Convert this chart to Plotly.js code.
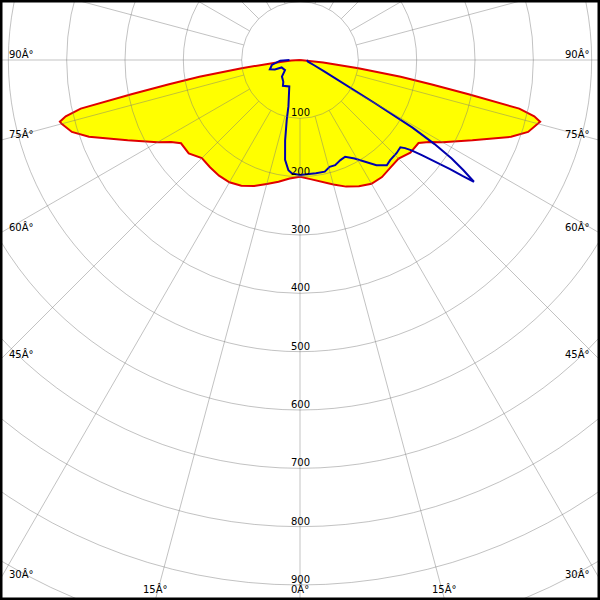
<!DOCTYPE html>
<html><head><meta charset="utf-8">
<script src="https://cdn.plot.ly/plotly-3.0.1.min.js"></script>
<style>html,body{margin:0;padding:0;background:#fff}#chart{width:600px;height:600px}</style>
</head><body><div id="chart"></div>
<script>
// C0 / C180 plane (red outline, yellow fill) - gamma in degrees from nadir, intensity
const gammaC0 = [0,5,10,15,20,25,30,35,40,45,50,55,57.5,60,65,70,72.5,75,75.6,76.5,77.5,78.5,79.5,80.5,82,84,87,90];
const intensityC0 = [200,205,212,221,231,239,245,245,241,239,247,248,262,282,326,385,410,423,425,413,385,295,230,175,101,40,15,0];
const gammaC180 = [0,5,10,15,20,25,30,35,40,45,50,55,57.5,60,65,70,72.5,75,75.6,76.5,77.5,78.5,79.5,80.5,82,84,87,90];
const intensityC180 = [200,204,212,220,230,238,242,242,240,238,249,249,262,282,326,385,410,423,425,413,385,295,230,175,101,40,15,0];
// C90 / C270 plane (blue line)
const gammaC90 = [0,8,12.5,15.5,18.5,22,25,29,36,39.5,42,46,49,50,51,52,53,54,54.5,55,56,57,58,59,60,61,62,63,65,70,78,90];
const intensityC90 = [197,196,196,190,190,185,183,193,223,234,231,230,228,235,246,265,288,318,342,364,338,310,272,225,150,110,80,63,45,25,14,12];
const gammaC270 = [0,4,6,8.5,10.5,12.5,14,18,22,33.5,37.5,47.5,56,68,69.5,73,80,88,90];
const intensityC270 = [197,195,190,173,140,105,82,60,49,53,47,42,31,34,46,54,49,34,18];

const ringValues = [100,200,300,400,500,600,700,800,900,1000];
const ringLabels = ['100','200','300','400','500','600','700','800','900'];
const spokeAngles = [0,15,30,45,60,75,90,105,120,135,150,165,180,195,210,225,240,255,270,285,300,315,330,345];
const sideLabelAngles = [90,75,60,45,30];
const sideLabelText = ['90Â°','75Â°','60Â°','45Â°','30Â°'];
const bottomLabelAngles = [15,0];
const bottomLabelText = ['15Â°','0Â°'];

const PX = 0.58333;            // pixels per candela unit
const XMAX = 300 / PX;
const YTOP = 60 / PX;
const YBOT = -540 / PX;
const rad = d => d * Math.PI / 180;

function side(gam, val, sign) {
  return { x: gam.map((g, i) => sign * val[i] * Math.sin(rad(g))),
           y: gam.map((g, i) => -val[i] * Math.cos(rad(g))) };
}
const L0 = side(gammaC180, intensityC180, -1);
const R0 = side(gammaC0, intensityC0, 1);
const L9 = side(gammaC270, intensityC270, -1);
const R9 = side(gammaC90, intensityC90, 1);

const redX = L0.x.slice().reverse().concat(R0.x.slice(1));
const redY = L0.y.slice().reverse().concat(R0.y.slice(1));
const blueX = L9.x.slice().reverse().concat(R9.x.slice(1));
const blueY = L9.y.slice().reverse().concat(R9.y.slice(1));

const traces = [
  { x: redX, y: redY, mode: 'lines', fill: 'toself', fillcolor: '#ffff00',
    line: { color: '#e00000', width: 2 }, hoverinfo: 'skip' },
  { x: blueX, y: blueY, mode: 'lines',
    line: { color: '#0000b0', width: 2 }, hoverinfo: 'skip' }
];

const gridColor = 'rgba(120,120,120,0.45)';
const shapes = [];
ringValues.forEach(r => shapes.push({ type: 'circle', xref: 'x', yref: 'y', x0: -r, x1: r, y0: -r, y1: r,
  line: { color: gridColor, width: 1 }, layer: 'above' }));
spokeAngles.forEach(a => shapes.push({ type: 'line', xref: 'x', yref: 'y',
  x0: 100 * Math.sin(rad(a)), y0: -100 * Math.cos(rad(a)),
  x1: 1300 * Math.sin(rad(a)), y1: -1300 * Math.cos(rad(a)),
  line: { color: gridColor, width: 1 }, layer: 'above' }));
shapes.push({ type: 'rect', xref: 'paper', yref: 'paper', x0: 0, x1: 1, y0: 0, y1: 1,
  line: { color: '#000', width: 5 }, layer: 'above' });

const font = { family: 'DejaVu Sans', size: 10, color: '#000' };
const annotations = [];
ringLabels.forEach((t, i) => annotations.push({ x: 0, y: -ringValues[i], xref: 'x', yref: 'y', text: t,
  showarrow: false, xanchor: 'center', yanchor: 'bottom', font: font, borderpad: 0, yshift: -1 }));
sideLabelAngles.forEach((a, i) => {
  const yy = -XMAX * Math.cos(rad(a)) / Math.sin(rad(a));
  annotations.push({ x: 0, xref: 'paper', y: yy, yref: 'y', text: sideLabelText[i], showarrow: false,
    xanchor: 'left', yanchor: 'bottom', xshift: 8, font: font, borderpad: 0, yshift: -1 });
  annotations.push({ x: 1, xref: 'paper', y: yy, yref: 'y', text: sideLabelText[i], showarrow: false,
    xanchor: 'right', yanchor: 'bottom', xshift: -9, font: font, borderpad: 0, yshift: -1 });
});
bottomLabelAngles.forEach((a, i) => {
  const xx = -YBOT * Math.tan(rad(a));
  const xs = a === 0 ? [0] : [-xx, xx];
  xs.forEach(x => annotations.push({ x: x, xref: 'x', y: 0, yref: 'paper', text: bottomLabelText[i],
    showarrow: false, xanchor: 'center', yanchor: 'bottom', yshift: 4, font: font, borderpad: 0 }));
});

const layout = {
  width: 600, height: 600, margin: { l: 0, r: 0, t: 0, b: 0 },
  paper_bgcolor: '#fff', plot_bgcolor: '#fff', showlegend: false,
  xaxis: { range: [-XMAX, XMAX], visible: false, fixedrange: true },
  yaxis: { range: [YBOT, YTOP], visible: false, fixedrange: true },
  shapes: shapes, annotations: annotations
};
Plotly.newPlot('chart', traces, layout, { displayModeBar: false, staticPlot: true });
</script></body></html>
